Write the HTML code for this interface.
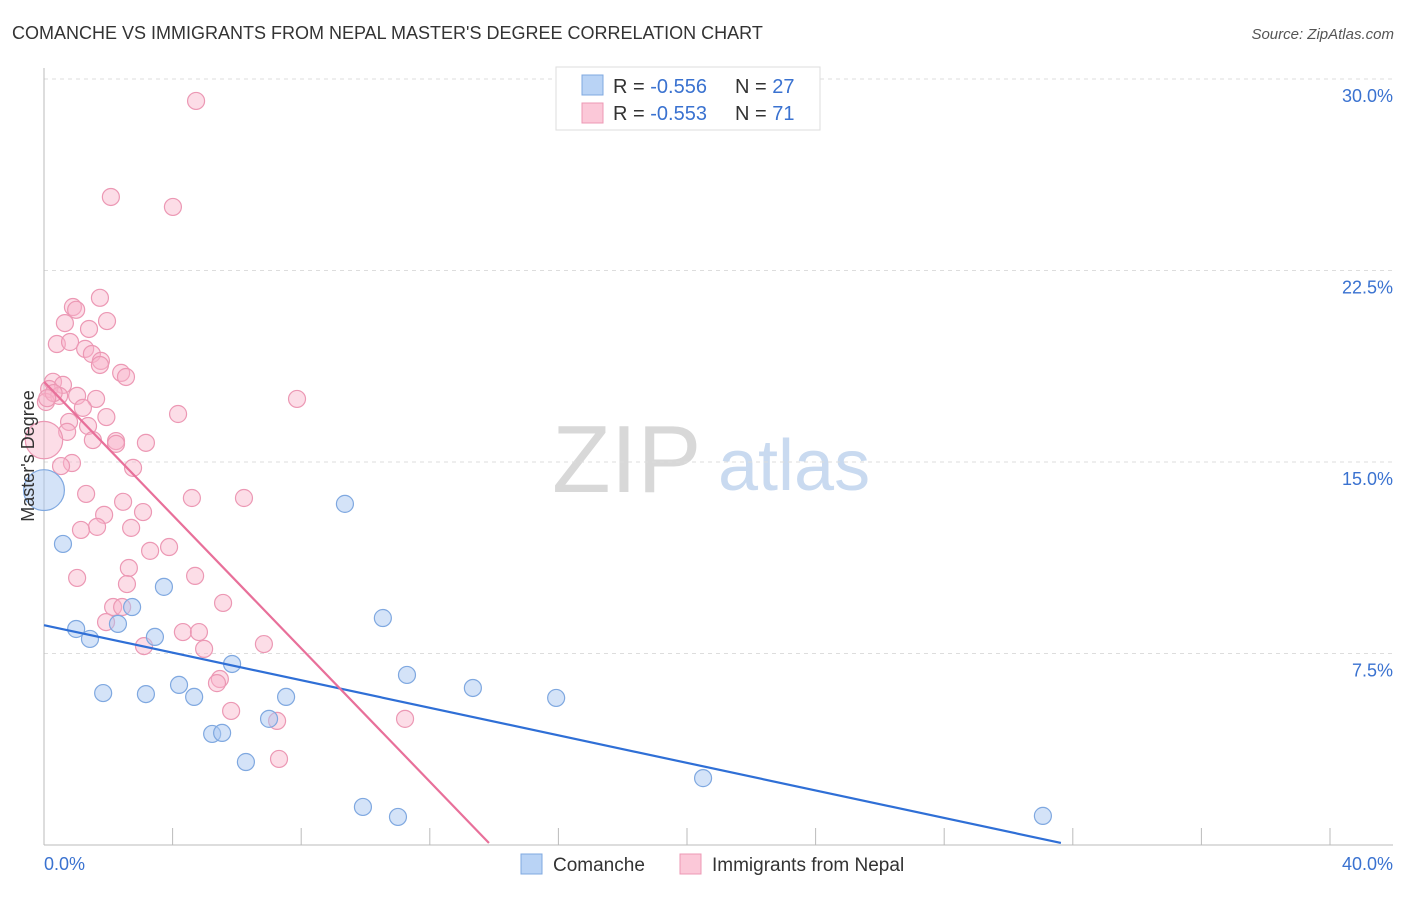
<!DOCTYPE html>
<html><head><meta charset="utf-8"><style>
body{margin:0;background:#fff;font-family:"Liberation Sans",sans-serif;}
svg text{font-family:"Liberation Sans",sans-serif;}
</style></head><body>
<svg id="chart" width="1406" height="892" xmlns="http://www.w3.org/2000/svg">
<text x="12" y="39" font-size="18" fill="#333">COMANCHE VS IMMIGRANTS FROM NEPAL MASTER'S DEGREE CORRELATION CHART</text>
<text x="1394" y="39" font-size="15" fill="#555" font-style="italic" text-anchor="end">Source: ZipAtlas.com</text>
<g>
<text x="552" y="492" font-size="96" fill="#d8d8d8" font-family="Liberation Serif">ZIP</text>
<text x="718" y="490" font-size="72" fill="#c9daf0">atlas</text>
</g>
<g id="grid"></g>
<g id="axes"></g>
<g id="marks"></g>
<text transform="translate(34,456) rotate(-90)" font-size="18" fill="#333" text-anchor="middle">Master's Degree</text>
<g>
<rect x="556" y="67" width="264" height="63" fill="#fff" stroke="#ddd"/>
<rect x="582" y="75" width="21" height="20" fill="#b9d3f5" stroke="#7fa8e0"/>
<rect x="582" y="103" width="21" height="20" fill="#fbc8d8" stroke="#ec98b4"/>
<text x="613" y="93" font-size="20" fill="#333">R = <tspan fill="#3a72d0">-0.556</tspan></text>
<text x="735" y="93" font-size="20" fill="#333">N = <tspan fill="#3a72d0">27</tspan></text>
<text x="613" y="120" font-size="20" fill="#333">R = <tspan fill="#3a72d0">-0.553</tspan></text>
<text x="735" y="120" font-size="20" fill="#333">N = <tspan fill="#3a72d0"> 71</tspan></text>
</g>
<g>
<rect x="521" y="854" width="21" height="20" fill="#b9d3f5" stroke="#7fa8e0"/>
<text x="553" y="871" font-size="19" fill="#333">Comanche</text>
<rect x="680" y="854" width="21" height="20" fill="#fbc8d8" stroke="#ec98b4"/>
<text x="712" y="871" font-size="19" fill="#333">Immigrants from Nepal</text>
</g>
</svg>
<script>
const yTicks=[7.5,15,22.5,30];
const yTickLabels=["7.5%","15.0%","22.5%","30.0%"];
const xTicks=[0,4,8,12,16,20,24,28,32,36,40];
const comancheX=[0.59,1.00,1.43,1.84,2.30,2.74,3.17,3.45,3.73,4.20,4.67,5.23,5.54,5.85,6.28,7.00,7.53,9.36,9.92,10.54,11.01,11.29,13.34,15.93,20.50,31.07,0];
const comancheY=[11.79,8.46,8.07,5.95,8.66,9.32,5.91,8.15,10.11,6.27,5.80,4.35,4.39,7.09,3.25,4.94,5.80,13.36,1.49,8.89,1.10,6.66,6.15,5.76,2.62,1.14,13.9];
const comancheSize=[1,1,1,1,1,1,1,1,1,1,1,1,1,1,1,1,1,1,1,1,1,1,1,1,1,1,2.4];
const nepalX=[4.73,2.08,4.01,1.74,0.90,1.00,1.96,0.65,1.40,0.40,0.81,1.28,1.49,1.77,1.74,2.40,2.55,0.28,0.59,0.16,0.47,1.03,0.06,1.62,7.87,1.21,1.94,4.17,0.78,1.37,0.72,1.52,2.24,2.24,3.17,0,0.87,0.53,2.77,1.31,4.60,6.22,2.46,1.87,3.08,1.65,1.15,2.71,3.89,3.30,2.64,1.03,4.70,2.58,5.57,2.15,2.43,1.93,4.32,4.82,3.11,4.98,6.84,5.47,5.38,5.82,7.25,11.23,7.31,0.3,0.1];
const nepalY=[29.14,25.38,24.99,21.43,21.07,20.96,20.52,20.44,20.21,19.62,19.70,19.43,19.23,18.96,18.80,18.49,18.33,18.14,18.02,17.86,17.59,17.59,17.35,17.47,17.47,17.12,16.76,16.88,16.57,16.41,16.18,15.86,15.82,15.71,15.75,15.86,14.96,14.84,14.77,13.75,13.59,13.59,13.44,12.93,13.04,12.46,12.34,12.42,11.67,11.52,10.85,10.46,10.54,10.22,9.48,9.32,9.32,8.73,8.34,8.34,7.79,7.68,7.87,6.50,6.34,5.25,4.86,4.94,3.37,17.7,17.5];
const nepalSize=[1,1,1,1,1,1,1,1,1,1,1,1,1,1,1,1,1,1,1,1,1,1,1,1,1,1,1,1,1,1,1,1,1,1,1,2.2,1,1,1,1,1,1,1,1,1,1,1,1,1,1,1,1,1,1,1,1,1,1,1,1,1,1,1,1,1,1,1,1,1,1,1];
const comancheTrend=[[0,8.61],[31.63,0.08]];
const nepalTrend=[[0,18.14],[13.84,0.08]];
const NS="http://www.w3.org/2000/svg";
const xs=v=>44+v*(1286/40);
const ys=v=>845-v*(191.5/7.5);
function mk(parent,tag,attrs){const e=document.createElementNS(NS,tag);for(const k in attrs)e.setAttribute(k,attrs[k]);document.getElementById(parent).appendChild(e);return e;}
yTicks.forEach((t,i)=>{
 const l=mk('grid','line',{x1:44,x2:1393,y1:ys(t),y2:ys(t),stroke:'#ddd','stroke-dasharray':'4,4'});
 
 
 const tx=mk('grid','text',{x:1393,y:ys(t)+23,'font-size':18,fill:'#3a72d0','text-anchor':'end'});
 tx.textContent=yTickLabels[i];
 
 
});
const ax=mk('axes','line',{x1:44,x2:1393,y1:845,y2:845,stroke:'#bbb'});


const ay=mk('axes','line',{x1:44,x2:44,y1:68,y2:845,stroke:'#bbb'});


xTicks.forEach(t=>{
 const l=mk('axes','line',{x1:xs(t),x2:xs(t),y1:828,y2:845,stroke:'#bbb'});
 
 
});
const x0=mk('axes','text',{x:44,y:870,'font-size':18,fill:'#3a72d0'});x0.textContent='0.0%';


const x1=mk('axes','text',{x:1393,y:870,'font-size':18,fill:'#3a72d0','text-anchor':'end'});x1.textContent='40.0%';


nepalX.forEach((v,i)=>{
 const c=mk('marks','circle',{cx:xs(v),cy:ys(nepalY[i]),r:8.5*nepalSize[i],fill:'rgba(248,180,202,0.45)',stroke:'#ec98b4','stroke-width':1.2});
 
 
});
comancheX.forEach((v,i)=>{
 const c=mk('marks','circle',{cx:xs(v),cy:ys(comancheY[i]),r:8.5*comancheSize[i],fill:'rgba(170,200,242,0.5)',stroke:'#7fa8e0','stroke-width':1.2});
 
 
});
const bl=mk('marks','line',{x1:xs(comancheTrend[0][0]),y1:ys(comancheTrend[0][1]),x2:xs(comancheTrend[1][0]),y2:ys(comancheTrend[1][1]),stroke:'#2f6fd6','stroke-width':2.2});


const pl=mk('marks','line',{x1:xs(nepalTrend[0][0]),y1:ys(nepalTrend[0][1]),x2:xs(nepalTrend[1][0]),y2:ys(nepalTrend[1][1]),stroke:'#e8709a','stroke-width':2.2});


</script>
</body></html>
